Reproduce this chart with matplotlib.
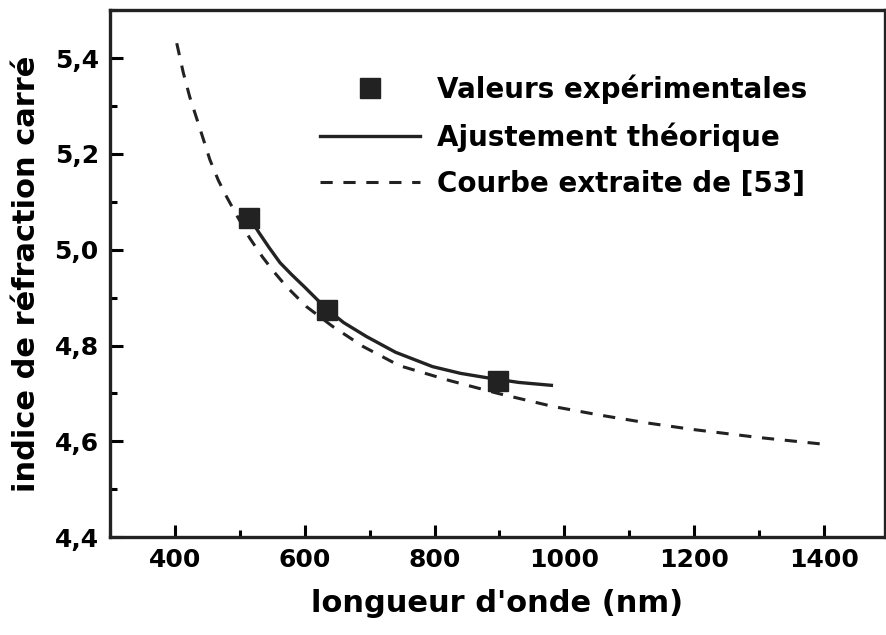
import numpy as np
import matplotlib.pyplot as plt
from matplotlib.ticker import MultipleLocator, FixedLocator, FixedFormatter

plt.rcParams['font.family'] = ['DejaVu Sans']
plt.rcParams['font.weight'] = 'bold'

# experimental points
exp_x = [515, 635, 898]
exp_y = [5.067, 4.875, 4.727]

# theoretical fit
fit_x = [515, 530, 545, 562, 580, 600, 620, 635, 660, 695, 740, 797, 840, 880, 930, 980]
fit_y = [5.067, 5.035, 5.005, 4.973, 4.948, 4.922, 4.895, 4.875, 4.848, 4.819, 4.786,
         4.756, 4.742, 4.733, 4.723, 4.717]

# curve from [53]
ref_x = [403, 413, 423, 438, 454, 467, 480, 497, 515, 535, 552, 572, 603, 643, 690, 746,
         823, 898, 982, 1054, 1130, 1197, 1300, 1400]
ref_y = [5.431, 5.370, 5.319, 5.256, 5.188, 5.145, 5.110, 5.068, 5.025, 4.985, 4.955,
         4.923, 4.881, 4.840, 4.798, 4.758, 4.727, 4.700, 4.673, 4.655, 4.638, 4.625,
         4.608, 4.594]

yticks = [4.4, 4.6, 4.8, 5.0, 5.2, 5.4]
ytick_labels = ['4,4', '4,6', '4,8', '5,0', '5,2', '5,4']
xticks = [400, 600, 800, 1000, 1200, 1400]

fig = plt.figure(figsize=(8.86, 6.35), dpi=100)
ax = fig.add_axes([0.124, 0.154, 0.875, 0.830])

c = '#222222'
ax.plot(ref_x, ref_y, ls=(0, (4, 3.5)), lw=2.2, color=c, label='Courbe extraite de [53]')
ax.plot(fit_x, fit_y, ls='-', lw=2.4, color=c, label='Ajustement théorique')
ax.plot(exp_x, exp_y, ls='none', marker='s', ms=15, color=c, label='Valeurs expérimentales')

ax.set_xlim(300, 1494)
ax.set_ylim(4.4, 5.5)
ax.xaxis.set_major_locator(FixedLocator(xticks))
ax.xaxis.set_minor_locator(MultipleLocator(100))
ax.yaxis.set_major_locator(FixedLocator(yticks))
ax.yaxis.set_major_formatter(FixedFormatter(ytick_labels))
ax.yaxis.set_minor_locator(MultipleLocator(0.1))
ax.tick_params(which='both', direction='in', width=2.2, labelsize=18)
ax.tick_params(which='major', length=9, pad=8)
ax.tick_params(which='minor', length=5)
for s in ax.spines.values():
    s.set_linewidth(2.4)
    s.set_color(c)

ax.set_xlabel("longueur d'onde (nm)", fontsize=22, fontweight='bold', labelpad=12)
ax.set_ylabel('indice de réfraction carré', fontsize=22, fontweight='bold', labelpad=10)

h, l = ax.get_legend_handles_labels()
ax.legend(h[::-1], l[::-1], loc='upper left', bbox_to_anchor=(0.243, 0.92), frameon=False,
          fontsize=20, handlelength=3.6, handletextpad=0.6, labelspacing=0.65,
          borderpad=0.3)

plt.savefig('out.png')
